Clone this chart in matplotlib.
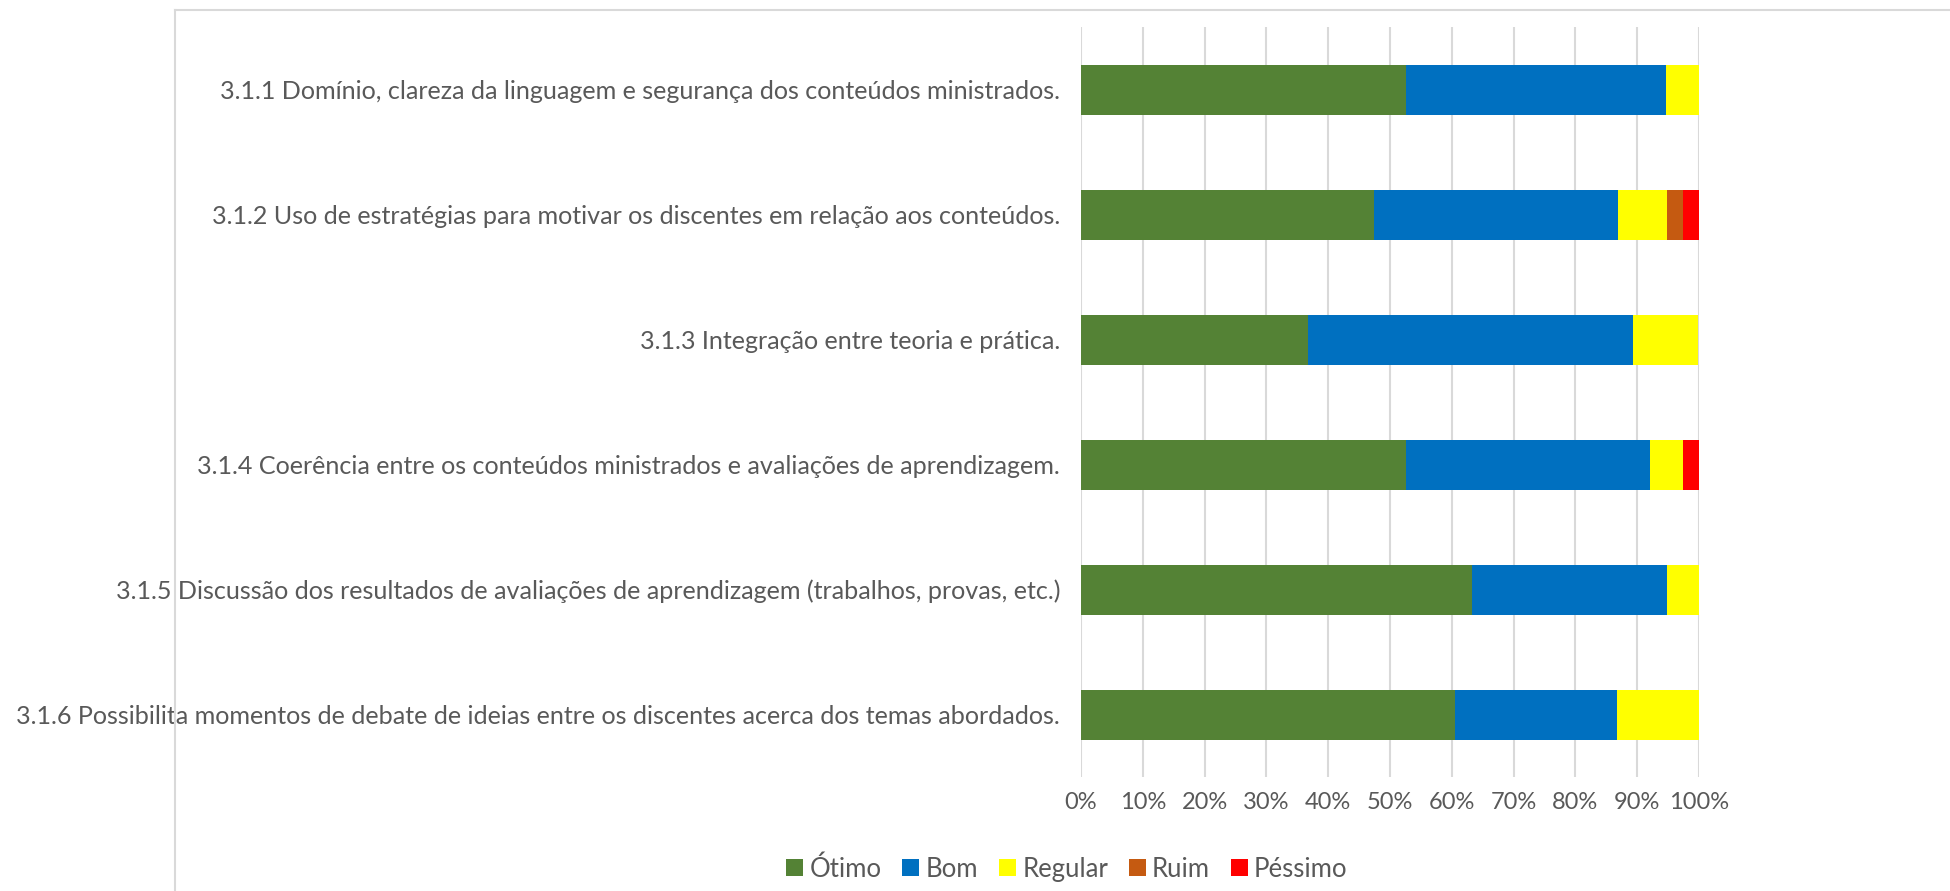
import matplotlib
matplotlib.use("Agg")
import matplotlib.pyplot as plt
from matplotlib.lines import Line2D
from matplotlib.ticker import PercentFormatter
import numpy as np

plt.rcParams['font.family'] = ['Lato', 'DejaVu Sans']

categories = [
    "3.1.1 Domínio, clareza da linguagem e segurança dos conteúdos ministrados.",
    "3.1.2 Uso de estratégias para motivar os discentes em relação aos conteúdos.",
    "3.1.3 Integração entre teoria e prática.",
    "3.1.4 Coerência entre os conteúdos ministrados e avaliações de aprendizagem.",
    "3.1.5 Discussão dos resultados de avaliações de aprendizagem (trabalhos, provas, etc.)",
    "3.1.6 Possibilita momentos de debate de ideias entre os discentes acerca dos temas abordados.",
]
series_names = ["Ótimo", "Bom", "Regular", "Ruim", "Péssimo"]
otimo   = [52.6, 47.4, 36.8, 52.6, 63.2, 60.5]
bom     = [42.1, 39.5, 52.6, 39.5, 31.6, 26.3]
regular = [5.3, 7.9, 10.5, 5.3, 5.3, 13.2]
ruim    = [0.0, 2.6, 0.0, 0.0, 0.0, 0.0]
pessimo = [0.0, 2.6, 0.0, 2.6, 0.0, 0.0]
x_ticks = [0, 10, 20, 30, 40, 50, 60, 70, 80, 90, 100]

colors = ["#548235", "#0070C0", "#FFFF00", "#C55A11", "#FF0000"]
text_color = "#595959"
grid_color = "#D9D9D9"

W, H = 1950, 891
fig = plt.figure(figsize=(W / 100, H / 100), dpi=100)
ax = fig.add_axes([1081 / W, 1 - 777 / H, (1699 - 1081) / W, (777 - 27) / H])

y = np.arange(len(categories))
left = np.zeros(len(categories))
for name, vals, c in zip(series_names, [otimo, bom, regular, ruim, pessimo], colors):
    vals = np.array(vals)
    ax.barh(y, vals, left=left, height=0.4, color=c, label=name, zorder=3)
    left += vals

ax.set_xlim(0, 100)
ax.set_ylim(len(categories) - 0.5, -0.5)
ax.set_xticks(x_ticks)
ax.xaxis.set_major_formatter(PercentFormatter(decimals=0))
ax.set_yticks(y)
ax.set_yticklabels(categories)
ax.grid(axis='x', color=grid_color, linewidth=1.5, zorder=0)
ax.set_axisbelow(True)
for s in ax.spines.values():
    s.set_visible(False)
ax.tick_params(axis='y', length=0, pad=15, labelsize=18.1, labelcolor=text_color)
ax.tick_params(axis='x', length=0, pad=11, labelsize=17, labelcolor=text_color)

# chart frame (partially cropped)
fig.add_artist(Line2D([175 / W, 1.0], [1 - 10 / H, 1 - 10 / H], color=grid_color, linewidth=1.5, transform=fig.transFigure))
fig.add_artist(Line2D([175 / W, 175 / W], [1 - 10 / H, 0.0], color=grid_color, linewidth=1.5, transform=fig.transFigure))

leg = fig.legend(loc='center', bbox_to_anchor=(1067 / W, 1 - 869 / H), ncol=5, frameon=False,
                 handlelength=0.66, handleheight=0.66, handletextpad=0.25, columnspacing=0.8,
                 fontsize=18.5)
for t in leg.get_texts():
    t.set_color(text_color)

fig.savefig("out.png", dpi=100)
